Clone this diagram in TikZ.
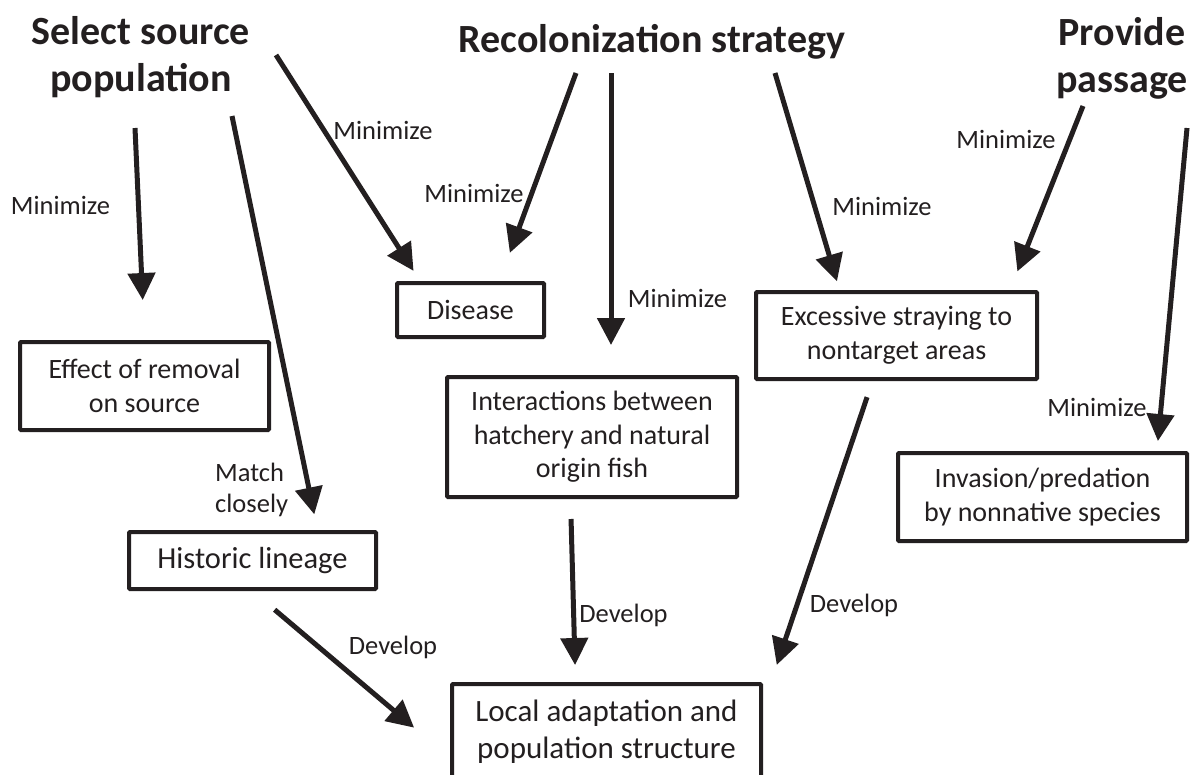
\documentclass[tikz,border=0pt]{standalone}
\usepackage{fontspec}
\setmainfont{Carlito}
\usetikzlibrary{arrows.meta}
\definecolor{ink}{RGB}{35,31,32}

\begin{document}
\begin{tikzpicture}[x=1pt, y=-1pt, color=ink,
    heading/.style ={font=\bfseries\fontsize{40}{47}\selectfont,
      align=center, inner sep=0pt},
    block/.style ={rectangle, draw=ink, line width=4pt, fill=white,
      rounded corners=1pt, align=center, inner sep=0pt,
      font=\fontsize{28}{33.5}\selectfont},
    lbl/.style ={font=\fontsize{26.5}{31}\selectfont, inner sep=0pt},
    line/.style ={draw, line width=5pt, -{Triangle[length=27pt,width=27pt]}}]
    \useasboundingbox (0,0) rectangle (1190,774);
    \clip (0,0) rectangle (1190,774);
    % titles
    \node [heading] (select) at (141,57) {Select source\\population};
    \node [heading, anchor=base] (recol) at (652,52) {Recolonization strategy};
    \node [heading] (passage) at (1122,58) {Provide\\passage};
    % boxes
    \node [block, minimum width=249pt, minimum height=88pt] (removal) at (144.5,386) {Effect of removal\\on source};
    \node [block, minimum width=147pt, minimum height=54pt] (disease) at (470.5,310) {Disease};
    \node [block, minimum width=247pt, minimum height=57pt,
      font=\fontsize{30.5}{37}\selectfont] (lineage) at (252.5,560.5) {Historic lineage};
    \node [block, minimum width=290pt, minimum height=120pt] (interact) at (592,437) {Interactions between\\hatchery and natural\\origin fish};
    \node [block, minimum width=281pt, minimum height=87pt] (straying) at (896.5,335.5) {Excessive straying to\\nontarget areas};
    \node [block, minimum width=289pt, minimum height=88pt] (invasion) at (1042.5,497) {Invasion/predation\\by nonnative species};
    \node [block, minimum width=309pt, minimum height=96pt,
      font=\fontsize{31}{37}\selectfont] (local) at (606.5,732) {Local adaptation and\\population structure};
    % labels
    \node [lbl] (minA) at (60.5,205) {Minimize};
    \node [lbl] (minB) at (383,130) {Minimize};
    \node [lbl] (minC) at (474,193) {Minimize};
    \node [lbl] (minD) at (677.5,298) {Minimize};
    \node [lbl] (minE) at (882,206) {Minimize};
    \node [lbl] (minF) at (1006,139) {Minimize};
    \node [lbl] (minG) at (1097,407) {Minimize};
    \node [lbl, align=left, anchor=west] (match) at (215,490) {Match\\closely};
    \node [lbl] (devA) at (393,647) {Develop};
    \node [lbl] (devB) at (623.5,615) {Develop};
    \node [lbl] (devC) at (854,605) {Develop};
    % free starts of the arrows
    \coordinate (selA) at (135,128);
    \coordinate (selB) at (232,116);
    \coordinate (selC) at (276,55);
    \coordinate (recA) at (576,73);
    \coordinate (recB) at (611,73);
    \coordinate (recC) at (775,73);
    \coordinate (proA) at (1083,106);
    \coordinate (proB) at (1187,128);
    % arrows
    \begin{scope}[every path/.style=line]
     \path [shorten >=40pt] (selA) -- (removal.north);
     \path [shorten >=16pt] (selB) -- ([xshift=65pt]lineage.north);
     \path [shorten >=12pt] (selC) -- ([xshift=25pt]disease.north west);
     \path [shorten >=30pt] (recA) -- ([xshift=29pt]disease.north);
     \path [shorten >=30pt] (recB) -- ([xshift=19pt]interact.north);
     \path [shorten >=9pt] (recC) -- ([xshift=-57pt]straying.north);
     \path [shorten >=20pt] (proA) -- ([xshift=-29pt]straying.north east);
     \path [shorten >=10pt] (proB) -- ([xshift=-32pt]invasion.north east);
     \path [shorten <=29pt, shorten >=47pt] (lineage.south) -- ([yshift=-26pt]local.west);
     \path [shorten <=20pt, shorten >=17pt] ([xshift=-21.5pt]interact.south) -- ([xshift=-31pt]local.north);
     \path [shorten <=17pt, shorten >=18pt] ([xshift=-24pt]straying.south) -- ([xshift=8pt]local.north east);
    \end{scope}
\end{tikzpicture}
\end{document}
